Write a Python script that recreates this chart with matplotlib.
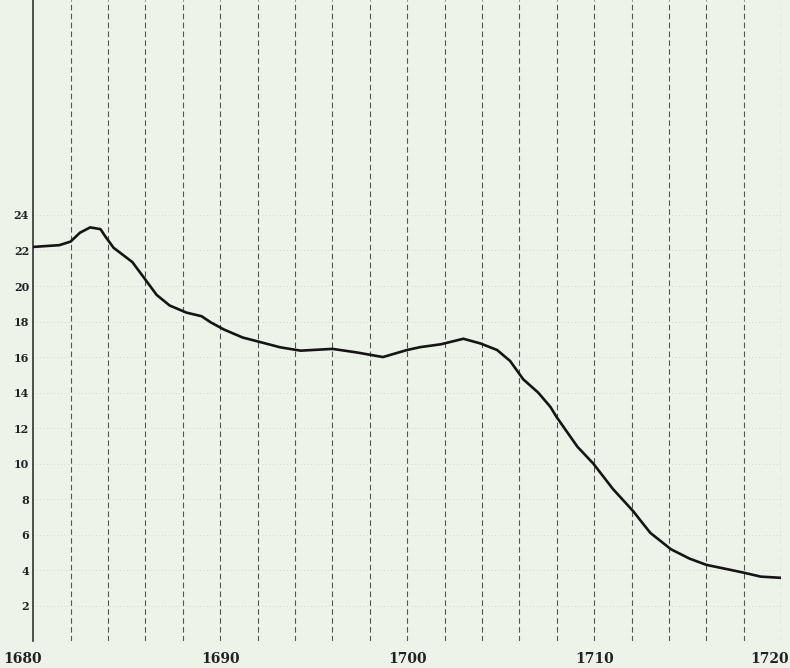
import numpy as np
import matplotlib.pyplot as plt
from matplotlib.transforms import ScaledTranslation

jaren = [1680.0, 1681.4, 1682.0, 1682.5, 1683.05, 1683.6, 1683.85, 1684.3, 1684.8,
         1685.3, 1685.9, 1686.6, 1687.3, 1688.2, 1689.0, 1689.5, 1690.2, 1691.2,
         1692.3, 1693.2, 1694.3, 1696.0, 1697.3, 1698.7, 1700.0, 1700.7, 1701.8,
         1703.0, 1703.9, 1704.8, 1705.5, 1706.2, 1707.0, 1707.65, 1708.0, 1709.1,
         1709.95, 1711.0, 1712.1, 1712.5, 1713.0, 1714.1, 1715.1, 1716.0, 1717.1,
         1718.0, 1718.9, 1720.0]
waarden = [22.2, 22.3, 22.5, 23.0, 23.3, 23.2, 22.8, 22.15, 21.75,
           21.35, 20.5, 19.5, 18.9, 18.5, 18.3, 17.95, 17.55, 17.1,
           16.8, 16.55, 16.36, 16.46, 16.26, 16.0, 16.4, 16.56, 16.72,
           17.03, 16.77, 16.4, 15.78, 14.75, 14.0, 13.2, 12.6, 10.95,
           10.0, 8.57, 7.3, 6.76, 6.1, 5.18, 4.65, 4.3, 4.06,
           3.86, 3.64, 3.57]

x_ticks = [1680, 1690, 1700, 1710, 1720]
y_ticks = list(range(2, 26, 2))
grid_jaren = list(range(1682, 1721, 2))

papier = '#eef3ea'

fig = plt.figure(figsize=(7.9, 6.68), dpi=100, facecolor=papier)
ax = fig.add_axes([0.042, 0.040, 0.947, 0.960])
ax.set_facecolor(papier)

# rasterlijnen
for j in grid_jaren:
    ax.axvline(j, color='#555555', lw=0.8, ls=(0, (5, 3)), zorder=1)
for v in y_ticks:
    ax.axhline(v, color='#999999', lw=0.5, ls=(0, (1, 4)), alpha=0.6, zorder=1)

ax.plot(jaren, waarden, color='#151515', lw=1.9, solid_capstyle='round',
        solid_joinstyle='round', zorder=3)

ax.set_xlim(1680, 1720)
ax.set_ylim(0, 36.1)

for s in ['top', 'right', 'bottom']:
    ax.spines[s].set_visible(False)
ax.spines['left'].set_color('#333333')
ax.spines['left'].set_linewidth(1.2)

ax.set_xticks(x_ticks)
ax.set_xticklabels([str(t) for t in x_ticks])
ax.set_yticks(y_ticks)
ax.set_yticklabels([str(t) for t in y_ticks])
ax.tick_params(axis='x', length=0, pad=8)
ax.tick_params(axis='y', length=0, pad=3)
for lab in ax.get_xticklabels():
    lab.set_fontfamily('DejaVu Serif')
    lab.set_fontweight('bold')
    lab.set_fontsize(10)
    lab.set_color('#222222')
for lab in ax.get_yticklabels():
    lab.set_fontfamily('DejaVu Serif')
    lab.set_fontweight('bold')
    lab.set_fontsize(8)
    lab.set_color('#222222')

# eerste en laatste label iets verschoven, zoals in het origineel
labels = ax.get_xticklabels()
labels[0].set_transform(labels[0].get_transform() + ScaledTranslation(-0.11, 0, fig.dpi_scale_trans))
labels[-1].set_transform(labels[-1].get_transform() + ScaledTranslation(-0.12, 0, fig.dpi_scale_trans))

fig.savefig('out.png', dpi=100, facecolor=papier)
